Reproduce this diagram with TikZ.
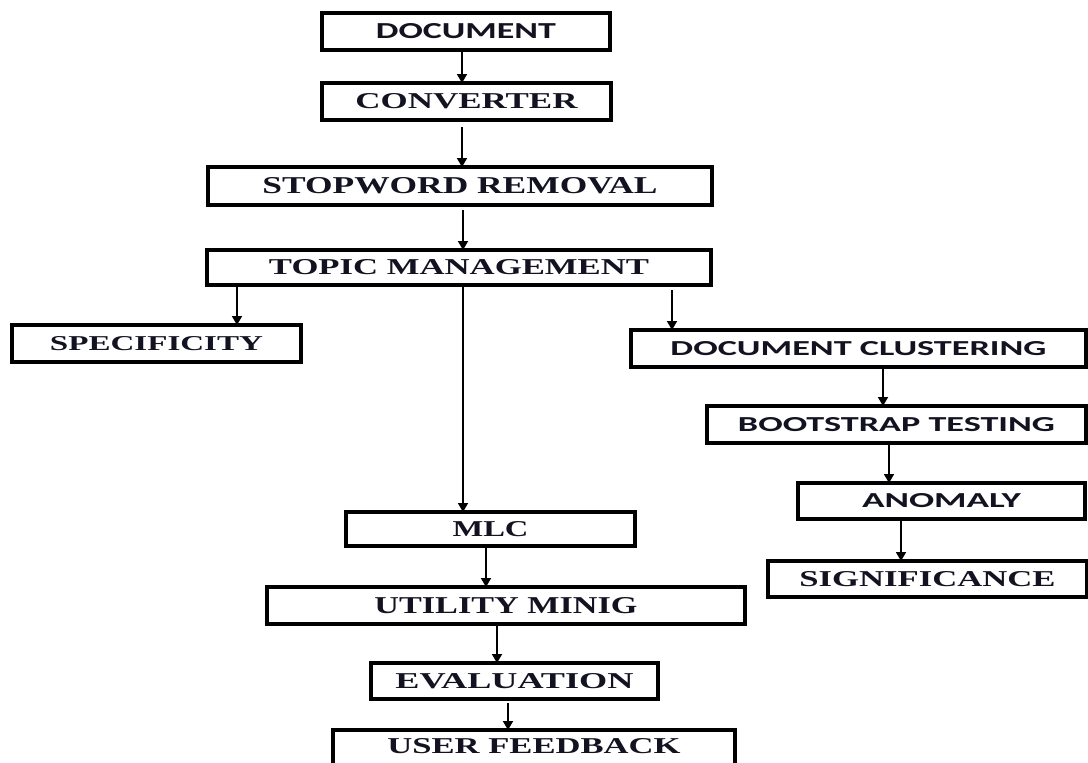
\documentclass[tikz,border=0pt]{standalone}
\usepackage{fontspec}
\setmainfont{Liberation Serif}
\newfontfamily\calib{Carlito}
\usetikzlibrary{arrows.meta}
\definecolor{ink}{rgb}{0.07,0.07,0.13}
\newcommand\tx[3]{\resizebox{#1pt}{#2pt}{\bfseries #3}}
\tikzset{
  box/.style={draw=black, line width=3.5pt, rectangle, inner sep=0pt, outer sep=0pt, text=ink, fill=white},
  arr/.style={line width=1.8pt, -{Triangle[length=9pt,width=10pt]}},
}
\begin{document}
\begin{tikzpicture}[x=1pt,y=-1pt]
\useasboundingbox (0,0) rectangle (1088,763);
\clip (0,0) rectangle (1088,763);
\node[box, minimum width=288pt, minimum height=37pt] (doc) at (466,31.5) {\tx{180}{15}{\calib DOCUMENT}};
\node[box, minimum width=289pt, minimum height=37pt] (conv) at (466.5,101.5) {\tx{222}{15}{CONVERTER}};
\node[box, minimum width=504pt, minimum height=38pt] (stop) at (460,186) {\tx{395}{16}{STOPWORD REMOVAL}};
\node[box, minimum width=504pt, minimum height=35pt] (topic) at (459,267.5) {\tx{380}{15}{TOPIC MANAGEMENT}};
\node[box, minimum width=289pt, minimum height=37pt] (spec) at (156.5,343.5) {\tx{213}{14}{SPECIFICITY}};
\node[box, minimum width=455pt, minimum height=37pt] (clus) at (858.5,348.5) {\tx{376}{14}{\calib DOCUMENT CLUSTERING}};
\node[box, minimum width=379pt, minimum height=37pt] (boot) at (896.5,424.5) {\tx{317}{14}{\calib BOOTSTRAP TESTING}};
\node[box, minimum width=287pt, minimum height=36pt] (anom) at (941.5,501) {\tx{159}{14}{\calib ANOMALY}};
\node[box, minimum width=319pt, minimum height=36pt] (sig) at (927.5,579) {\tx{256}{15}{SIGNIFICANCE}};
\node[box, minimum width=289pt, minimum height=34pt] (mlc) at (490.5,529) {\tx{76}{15}{MLC}};
\node[box, minimum width=478pt, minimum height=37pt] (util) at (506,605.5) {\tx{263}{16}{UTILITY MINIG}};
\node[box, minimum width=287pt, minimum height=36pt] (eval) at (514.5,681) {\tx{238}{15}{EVALUATION}};
\node[box, anchor=north, minimum width=402pt, minimum height=52pt, text depth=20pt] (uf) at (534,730) {\tx{293}{15}{USER FEEDBACK}};

\draw[arr] (doc.south -| 462,0) -- (conv.north -| 462,0);
\draw[arr, shorten <=7pt] (conv.south -| 462,0) -- (stop.north -| 462,0);
\draw[arr, shorten <=5pt] (stop.south -| 463,0) -- (topic.north -| 463,0);
\draw[arr] (topic.south -| 237,0) -- (spec.north -| 237,0);
\draw[arr, shorten <=5pt] (topic.south -| 672,0) -- (clus.north -| 672,0);
\draw[arr] (topic.south -| 463,0) -- (mlc.north -| 463,0);
\draw[arr] (clus.south -| 883,0) -- (boot.north -| 883,0);
\draw[arr] (boot.south -| 889,0) -- (anom.north -| 889,0);
\draw[arr] (anom.south -| 901,0) -- (sig.north -| 901,0);
\draw[arr] (mlc.south -| 486,0) -- (util.north -| 486,0);
\draw[arr] (util.south -| 497,0) -- (eval.north -| 497,0);
\draw[arr, shorten <=4pt] (eval.south -| 508,0) -- (uf.north -| 508,0);
\end{tikzpicture}
\end{document}
